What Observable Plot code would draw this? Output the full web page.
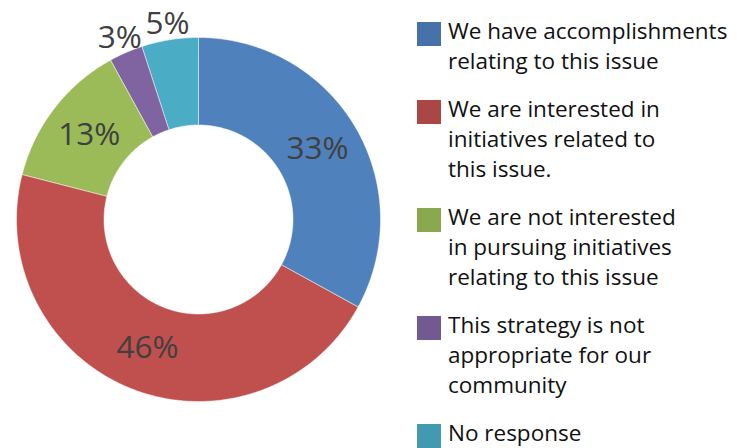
<!DOCTYPE html>
<html>
<head>
<meta charset="utf-8">
<script src="https://cdn.jsdelivr.net/npm/d3@7"></script>
<script src="https://cdn.jsdelivr.net/npm/@observablehq/plot@0.6"></script>
<style>
  html, body { margin: 0; padding: 0; background: #fff; }
  #wrap { position: relative; width: 746px; height: 448px; display: flex; overflow: hidden; font-family: "Open Sans", sans-serif; }
  #legend { padding-left: 7px; padding-top: 16px; }
  .item { display: flex; align-items: flex-start; margin-bottom: 18px; }
  .sw { width: 24px; height: 24px; margin-top: 6px; margin-right: 7px; flex: none; }
  .lbl { font-size: 22.5px; line-height: 30px; color: #111; white-space: nowrap; }
</style>
</head>
<body>
<div id="wrap"><div id="chart"></div><div id="legend"></div></div>
<script>
const categories = [
  "We have accomplishments relating to this issue",
  "We are interested in initiatives related to this issue.",
  "We are not interested in pursuing initiatives relating to this issue",
  "This strategy is not appropriate for our community",
  "No response"
];
const legendLines = [
  ["We have accomplishments", "relating to this issue"],
  ["We are interested in", "initiatives related to", "this issue."],
  ["We are not interested", "in pursuing initiatives", "relating to this issue"],
  ["This strategy is not", "appropriate for our", "community"],
  ["No response"]
];
const values = [33, 46, 13, 3, 5];
const labels = ["33%", "46%", "13%", "3%", "5%"];
const sliceColors = ["#4F81BD", "#C0504D", "#9BBB59", "#8064A2", "#4BACC6"];
const legendColors = ["#4672AA", "#AA4644", "#8AA84E", "#72598F", "#4299B0"];

// geometry (layout)
const W = 410, H = 448, cx = 198, cy = 219, R = 182;
const innerFrac = 94.5 / 182;
const outsideLabelR = 198 / 182;

const data = categories.map((c, i) => ({category: c, value: values[i], label: labels[i]}));
const arcs = d3.pie().value(d => d.value).sort(null)(data);

// build polygon outlines for each annulus slice
const pts = [];
for (const a of arcs) {
  const n = Math.max(8, Math.ceil((a.endAngle - a.startAngle) / (Math.PI / 360)));
  for (let k = 0; k <= n; k++) {
    const t = a.startAngle + (a.endAngle - a.startAngle) * k / n;
    pts.push({category: a.data.category, x: Math.sin(t), y: Math.cos(t)});
  }
  for (let k = n; k >= 0; k--) {
    const t = a.startAngle + (a.endAngle - a.startAngle) * k / n;
    pts.push({category: a.data.category, x: innerFrac * Math.sin(t), y: innerFrac * Math.cos(t)});
  }
}

const labelPts = arcs.map(a => {
  const m = (a.startAngle + a.endAngle) / 2;
  const r = a.data.value < 10 ? outsideLabelR : (1 + innerFrac) / 2;
  return {x: r * Math.sin(m), y: r * Math.cos(m), text: a.data.label};
});

const chart = Plot.plot({
  width: W, height: H,
  margin: 0,
  x: {domain: [-cx / R, (W - cx) / R], axis: null},
  y: {domain: [-(H - cy) / R, cy / R], axis: null},
  color: {domain: categories, range: sliceColors},
  marks: [
    Plot.line(pts, {x: "x", y: "y", z: "category", fill: "category", stroke: "#ffffff", strokeWidth: 0.6, strokeOpacity: 0.8, curve: "linear-closed"}),
    Plot.text(labelPts, {x: "x", y: "y", text: "text", fontSize: 31.5, fill: "#404040", fontFamily: "Open Sans"})
  ]
});
document.getElementById("chart").appendChild(chart);

const legend = document.getElementById("legend");
categories.forEach((c, i) => {
  const it = document.createElement("div");
  it.className = "item";
  const sw = document.createElement("div");
  sw.className = "sw";
  sw.style.background = legendColors[i];
  const lb = document.createElement("div");
  lb.className = "lbl";
  lb.innerHTML = legendLines[i].join("<br>");
  it.appendChild(sw); it.appendChild(lb);
  legend.appendChild(it);
});
</script>
</body>
</html>
